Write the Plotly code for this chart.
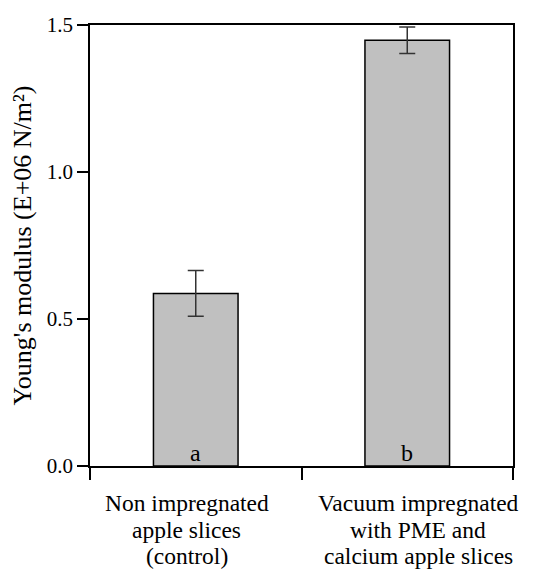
import plotly.graph_objects as go

categories = ["Non impregnated<br>apple slices<br>(control)",
              "Vacuum impregnated<br>with PME and<br>calcium apple slices"]
values = [0.587, 1.448]
errors = [0.078, 0.045]
letters = ["a", "b"]
y_ticks = [0.0, 0.5, 1.0, 1.5]
y_title = "Young's modulus (E+06 N/m²)"

FONT = "Liberation Serif"
LABEL_SIZE = 23.5
LABEL_XSHIFT = [-9, 11]
LINE_YSHIFT = [-22, -48.5, -75]

fig = go.Figure()
fig.add_trace(go.Bar(
    x=categories, y=values,
    width=0.4,
    marker=dict(color="#c0c0c0", line=dict(color="black", width=1.5)),
    error_y=dict(type="data", array=errors, visible=True,
                 color="#333333", thickness=1.5, width=8),
    showlegend=False,
))

# significance letters inside bars
for c, l in zip(categories, letters):
    fig.add_annotation(x=c, y=0, text=l, showarrow=False,
                       yanchor="bottom", yshift=-2,
                       font=dict(family=FONT, size=24, color="black"))

# category labels (tight line spacing, one annotation per line)
for c, dx in zip(categories, LABEL_XSHIFT):
    for line, dy in zip(c.split("<br>"), LINE_YSHIFT):
        fig.add_annotation(x=c, xref="x", y=0, yref="paper", text=line,
                           showarrow=False, xanchor="center", yanchor="top",
                           xshift=dx, yshift=dy,
                           font=dict(family=FONT, size=LABEL_SIZE, color="black"))

fig.update_layout(
    width=541, height=562,
    margin=dict(l=82, r=36, t=17, b=104),
    plot_bgcolor="white", paper_bgcolor="white",
    font=dict(family=FONT, size=21, color="black"),
    bargap=0.6,
)
fig.update_xaxes(
    showline=True, linecolor="black", linewidth=1.5, mirror=True,
    ticks="outside", tickson="boundaries", ticklen=12, tickwidth=1.5,
    tickcolor="black", showgrid=False, range=[-0.5, 1.5],
    showticklabels=False, automargin=False,
)
fig.update_yaxes(
    range=[0, 1.5], tickvals=y_ticks, tickformat=".1f",
    showline=True, linecolor="black", linewidth=1.5, mirror=True,
    ticks="outside", ticklen=11, tickwidth=1.5, tickcolor="black",
    showgrid=False, zeroline=False, automargin=False,
    tickfont=dict(family=FONT, size=21, color="black"),
    title=dict(text=y_title, font=dict(family=FONT, size=26, color="black"), standoff=8),
)
fig.write_html("out.html")
